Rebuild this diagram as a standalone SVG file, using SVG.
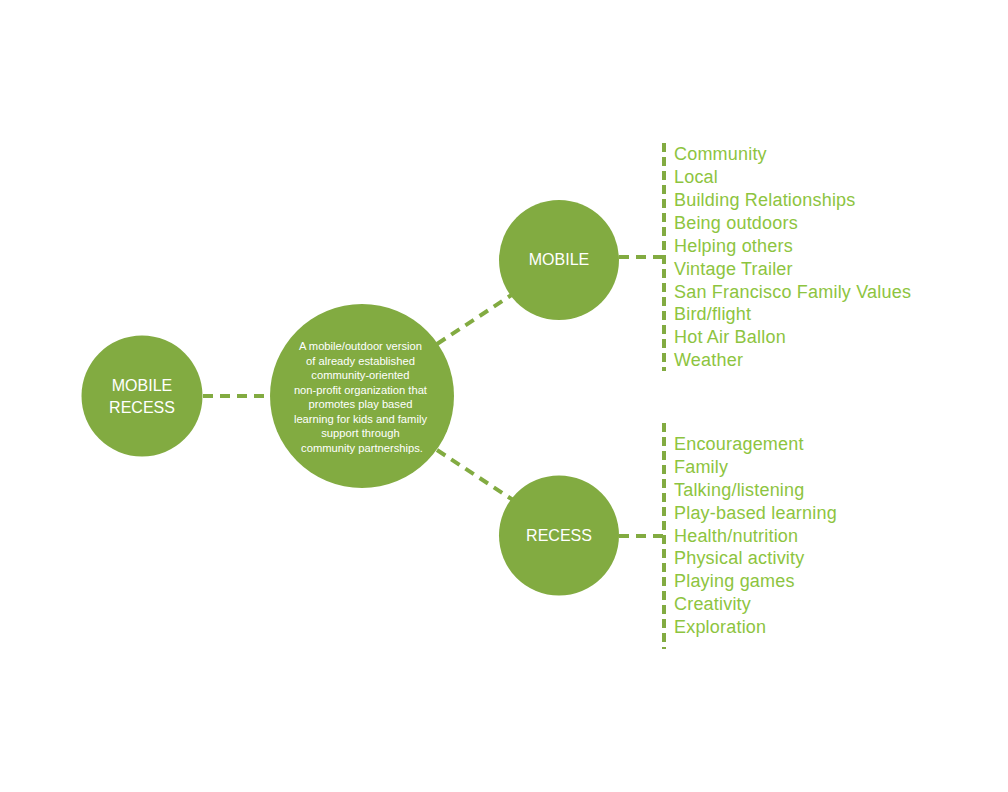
<svg xmlns="http://www.w3.org/2000/svg" width="1008" height="792" viewBox="0 0 1008 792">
<style>
.node{fill:#82ab41}
.conn{stroke:#82ab41;stroke-width:4;fill:none;stroke-dasharray:10 7}
.vline{stroke:#82ab41;stroke-width:4;fill:none;stroke-dasharray:9 5}
.lbl{font-family:"Liberation Sans",Arial,sans-serif;fill:#ffffff;text-anchor:middle}
.big{font-size:16px}
.small{font-size:11.2px}
.list{font-family:"Liberation Sans",Arial,sans-serif;font-size:18px;letter-spacing:0.2px;fill:#8dc440}
</style>
<rect width="1008" height="792" fill="#ffffff"/>
<g id="connectors">
<line class="conn" x1="203" y1="396" x2="271" y2="396"/>
<line class="conn" x1="437" y1="344" x2="513" y2="294"/>
<line class="conn" x1="437" y1="450" x2="513" y2="500"/>
<line class="conn" x1="619" y1="257" x2="664" y2="257"/>
<line class="conn" x1="619" y1="536" x2="664" y2="536"/>
<line class="vline" x1="664" y1="143" x2="664" y2="371"/>
<line class="vline" x1="664" y1="423" x2="664" y2="649"/>
</g>
<g id="mobile-recess">
<circle class="node" cx="142" cy="396" r="60.5"/>
<text class="lbl big" x="142" y="391">MOBILE</text>
<text class="lbl big" x="142" y="413">RECESS</text>
</g>
<g id="center">
<circle class="node" cx="362" cy="396" r="92"/>
<text class="lbl small">
<tspan x="362" y="350">A mobile/outdoor version</tspan>
<tspan x="362" y="364.5">of already established</tspan>
<tspan x="362" y="379">community-oriented</tspan>
<tspan x="362" y="393.5">non-profit organization that</tspan>
<tspan x="362" y="408">promotes play based</tspan>
<tspan x="362" y="422.5">learning for kids and family</tspan>
<tspan x="362" y="437">support through</tspan>
<tspan x="362" y="451.5">community partnerships.</tspan>
</text>
</g>
<g id="mobile">
<circle class="node" cx="559" cy="260" r="60"/>
<text class="lbl big" x="559" y="265">MOBILE</text>
</g>
<g id="recess">
<circle class="node" cx="559" cy="535.5" r="60"/>
<text class="lbl big" x="559" y="541">RECESS</text>
</g>
<g id="mobile-list">
<text class="list">
<tspan x="674" y="160">Community</tspan>
<tspan x="674" y="183">Local</tspan>
<tspan x="674" y="206">Building Relationships</tspan>
<tspan x="674" y="229">Being outdoors</tspan>
<tspan x="674" y="252">Helping others</tspan>
<tspan x="674" y="274.5">Vintage Trailer</tspan>
<tspan x="674" y="297.5">San Francisco Family Values</tspan>
<tspan x="674" y="320">Bird/flight</tspan>
<tspan x="674" y="343">Hot Air Ballon</tspan>
<tspan x="674" y="366">Weather</tspan>
</text>
</g>
<g id="recess-list">
<text class="list">
<tspan x="674" y="450">Encouragement</tspan>
<tspan x="674" y="473">Family</tspan>
<tspan x="674" y="496">Talking/listening</tspan>
<tspan x="674" y="519">Play-based learning</tspan>
<tspan x="674" y="541.5">Health/nutrition</tspan>
<tspan x="674" y="564">Physical activity</tspan>
<tspan x="674" y="587">Playing games</tspan>
<tspan x="674" y="610">Creativity</tspan>
<tspan x="674" y="633">Exploration</tspan>
</text>
</g>
</svg>
